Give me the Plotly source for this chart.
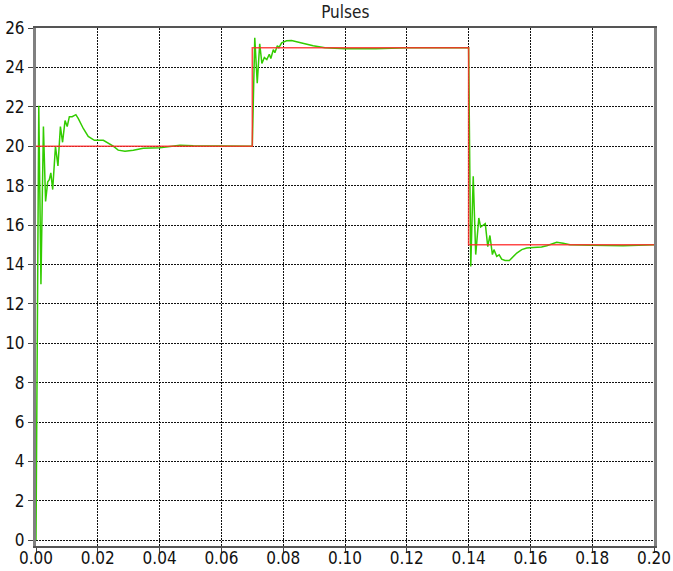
import plotly.graph_objects as go

# Response (green) samples: time [s], value
resp_t = [0, 0.0009, 0.0016, 0.0024, 0.0031, 0.0038, 0.0043, 0.0048, 0.0054, 0.0063,
          0.0071, 0.0079, 0.0086, 0.0094, 0.0101, 0.0108, 0.0117, 0.0129, 0.0137, 0.0153,
          0.0169, 0.0189, 0.0218, 0.0234, 0.0250, 0.0266, 0.0288, 0.0315, 0.0347, 0.0401,
          0.0434, 0.0466, 0.0509, 0.0600, 0.0700,
          0.0708, 0.0716, 0.0724, 0.0731, 0.0739, 0.0747, 0.0755, 0.0760, 0.0768, 0.0773,
          0.0781, 0.0786, 0.0795, 0.0811, 0.0827, 0.0849, 0.0870, 0.0897, 0.0935, 0.1000,
          0.1100, 0.1200, 0.1400,
          0.1407, 0.1415, 0.1423, 0.1433, 0.1439, 0.1448, 0.1454, 0.1462, 0.1469, 0.1477,
          0.1482, 0.1491, 0.1499, 0.1507, 0.1518, 0.1532, 0.1539, 0.1556, 0.1572, 0.1588,
          0.1609, 0.1636, 0.1653, 0.1669, 0.1685, 0.1706, 0.1728, 0.1800, 0.1900, 0.2000]
resp_v = [0, 22.05, 13.0, 21.0, 17.2, 18.2, 18.3, 18.65, 17.8, 20.0,
          19.0, 21.0, 20.2, 21.3, 21.0, 21.5, 21.5, 21.6, 21.4, 20.9,
          20.5, 20.3, 20.3, 20.15, 20.0, 19.8, 19.75, 19.8, 19.9, 19.92,
          20.0, 20.05, 20.02, 20.0, 20.0,
          25.5, 23.2, 25.2, 24.2, 24.5, 24.4, 24.67, 24.45, 24.9, 24.75,
          25.1, 25.0, 25.25, 25.35, 25.37, 25.3, 25.2, 25.1, 25.0, 24.95,
          24.95, 25.0, 25.0,
          13.9, 18.47, 14.5, 16.36, 15.9, 16.0, 16.07, 14.9, 15.47, 14.5,
          14.75, 14.41, 14.49, 14.27, 14.2, 14.2, 14.32, 14.58, 14.75, 14.83,
          14.86, 14.88, 14.95, 15.05, 15.12, 15.08, 15.0, 14.97, 14.95, 15.0]

# Setpoint pulses (red)
ref_t = [0, 0.07, 0.07, 0.14, 0.14, 0.20]
ref_v = [20, 20, 25, 25, 15, 15]

x_ticks = [0.00, 0.02, 0.04, 0.06, 0.08, 0.10, 0.12, 0.14, 0.16, 0.18, 0.20]
y_ticks = list(range(0, 27, 2))

FONT = "DejaVu Sans Condensed, DejaVu Sans, sans-serif"

fig = go.Figure()
fig.add_trace(go.Scatter(x=resp_t, y=resp_v, mode="lines",
                         line=dict(color="#33cc00", width=1.5), showlegend=False))
fig.add_trace(go.Scatter(x=ref_t, y=ref_v, mode="lines",
                         line=dict(color="#ff2a2a", width=1.5), opacity=0.85,
                         showlegend=False))

fig.update_layout(
    width=673, height=571,
    margin=dict(l=36, r=19, t=28, b=25),
    paper_bgcolor="white", plot_bgcolor="white",
    title=dict(text="Pulses", x=0.513, xanchor="center", y=0.979, yanchor="middle",
               font=dict(family=FONT, size=17, color="#222")),
    font=dict(family=FONT, size=17, color="#111"),
)
fig.update_xaxes(range=[0, 0.2], tickvals=x_ticks, ticktext=[f"{v:.2f}" for v in x_ticks],
                 automargin=False, ticklabelstandoff=-9,
                 showgrid=True, gridcolor="#111", gridwidth=1, griddash="2px,1px",
                 zeroline=False, showline=True, linecolor="#555", linewidth=2, mirror=True,
                 ticks="outside", ticklen=5, tickcolor="#444", tickwidth=1)
fig.update_yaxes(range=[-0.29, 26], tickvals=y_ticks, automargin=False,
                 showgrid=True, gridcolor="#111", gridwidth=1, griddash="2px,1px",
                 zeroline=False, showline=True, linecolor="#808080", linewidth=3, mirror=True,
                 ticks="outside", ticklen=5, tickcolor="#444", tickwidth=1)

fig.write_html("out.html")
